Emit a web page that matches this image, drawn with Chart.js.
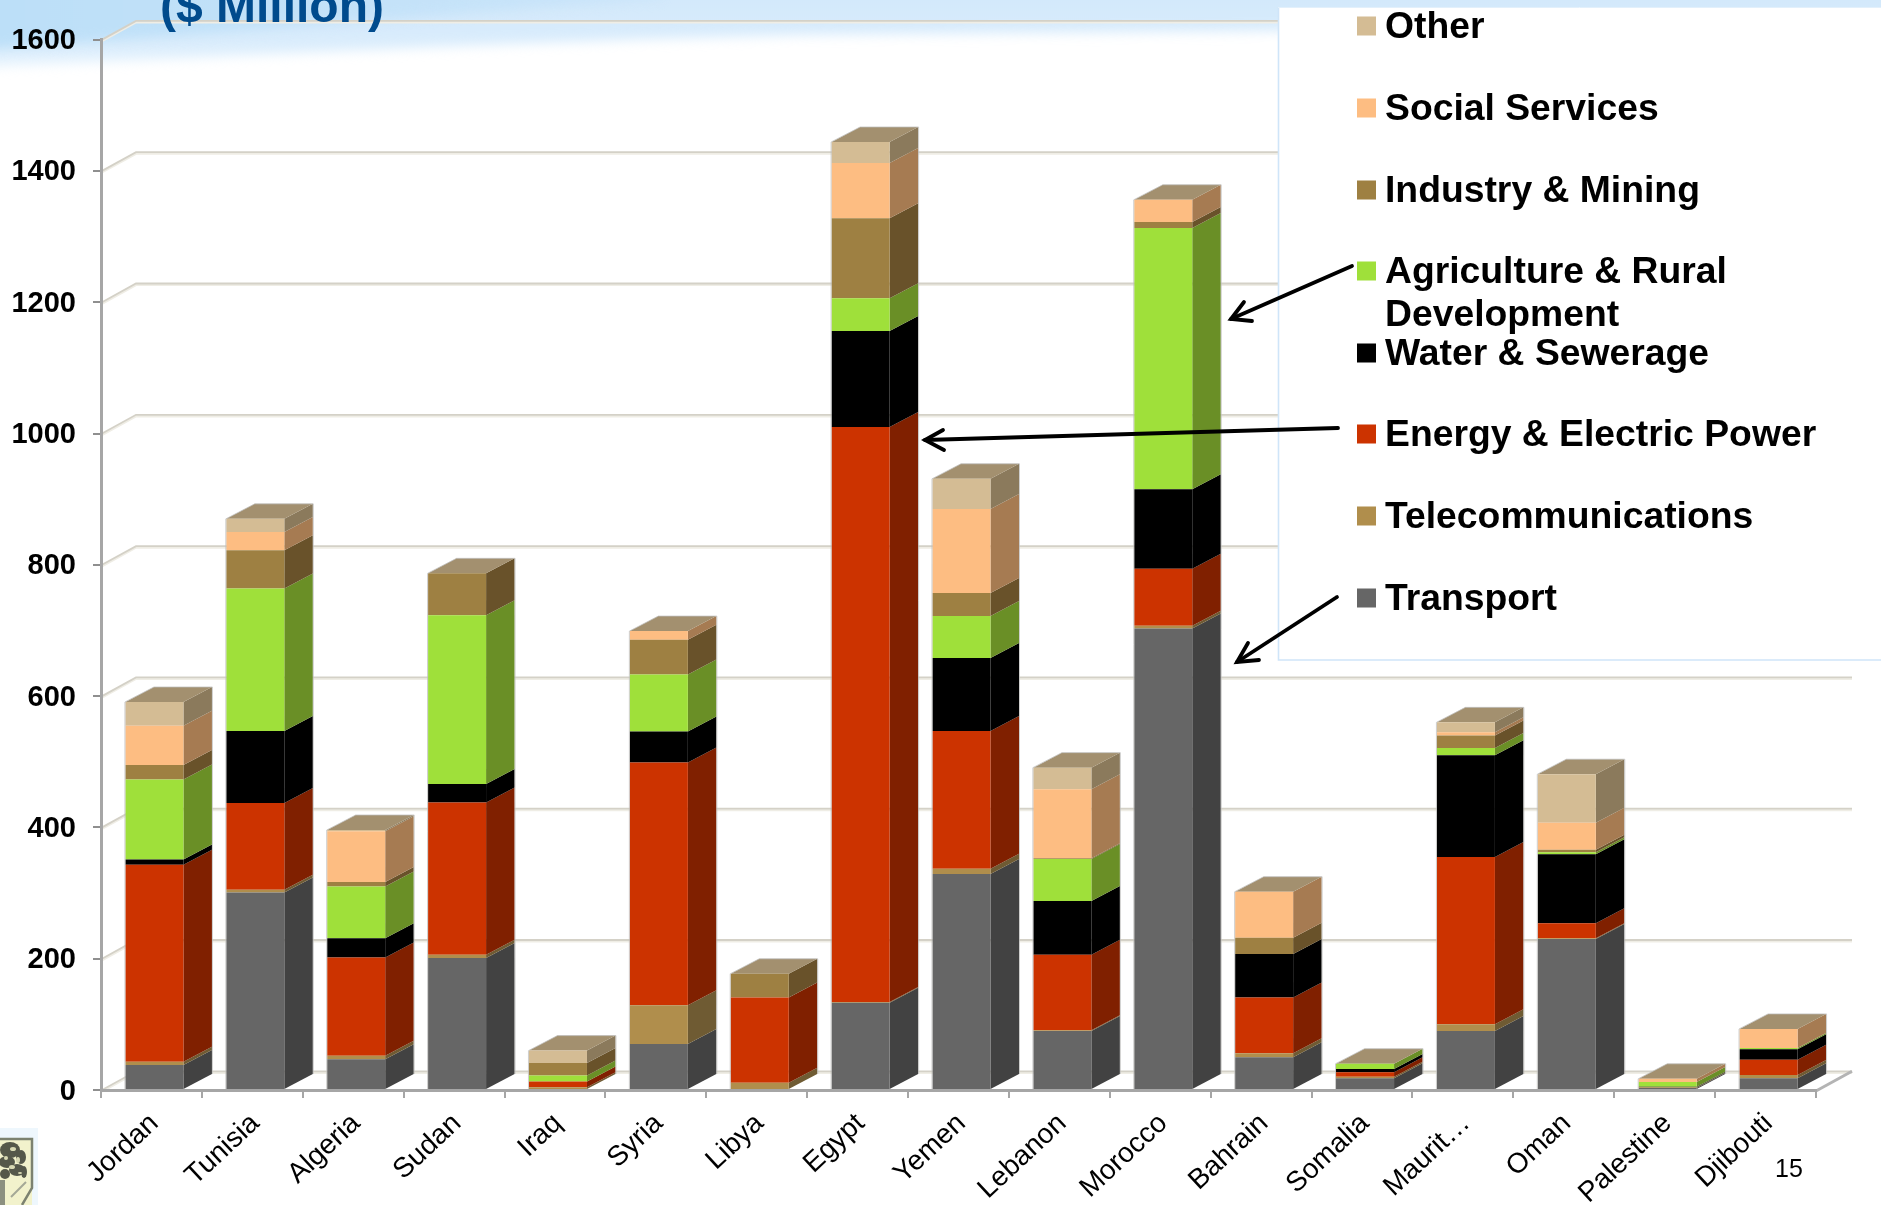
<!DOCTYPE html>
<html>
<head>
<meta charset="utf-8">
<style>html,body{margin:0;padding:0;background:#fff;overflow:hidden}canvas{display:block}</style>
<script src="https://cdn.jsdelivr.net/npm/chart.js@4"></script>
</head>
<body>
<canvas id="c" width="1881" height="1205"></canvas>
<script>
const categories = ['Jordan','Tunisia','Algeria','Sudan','Iraq','Syria','Libya','Egypt','Yemen','Lebanon','Morocco','Bahrain','Somalia','Maurit\u2026','Oman','Palestine','Djibouti'];
const transport  = [38,301,47,201,0,70,0,133,329,90,703,50,18,90,230,3,18];
const telecom    = [5,4,5,5,4,59,11,1,8,1,4,6,2,10,1,1,5];
const energy     = [300,132,150,232,9,370,130,876,210,115,87,85,7,255,23,0,23];
const water      = [8,110,29,28,0,47,0,146,111,82,121,66,5,155,105,1,16];
const agriculture= [122,217,79,257,9,87,0,50,64,64,398,0,8,11,3,7,2];
const industry   = [22,58,7,64,19,53,36,122,35,1,9,25,0,19,4,0,0];
const social     = [60,28,77,0,0,13,0,84,128,105,34,70,0,5,41,5,29];
const other      = [36,20,2,0,19,0,0,32,46,33,0,0,0,15,74,0,0];
const yTicks     = [0,200,400,600,800,1000,1200,1400,1600];
const title      = '($ Million)';
const pageNumber = '15';

const seriesNames = ['Transport','Telecommunications','Energy & Electric Power','Water & Sewerage','Agriculture & Rural Development','Industry & Mining','Social Services','Other'];
const seriesValues = [transport,telecom,energy,water,agriculture,industry,social,other];
const frontColors = ['#666666','#b08e4c','#cc3300','#000000','#9fe03a','#9e8042','#fdbd82','#d4bc94'];
const sideColors  = ['#424242','#6f5b33','#802000','#000000','#6a8f26','#69522a','#a67b52','#8b7a5c'];
const topColor = '#a3906f';

const DX=28.5, DY=15, WX=35, WY=18.7, SHIFT=3, WALL_RIGHT=1852;

function poly(ctx,pts,fill){ctx.beginPath();pts.forEach((p,i)=>i?ctx.lineTo(p[0],p[1]):ctx.moveTo(p[0],p[1]));ctx.closePath();ctx.fillStyle=fill;ctx.fill();}
function segs(ctx,pts,color,w){ctx.beginPath();pts.forEach((p,i)=>i?ctx.lineTo(p[0],p[1]):ctx.moveTo(p[0],p[1]));ctx.strokeStyle=color;ctx.lineWidth=w;ctx.stroke();}

const scene = {
  id:'scene',
  beforeDraw(chart){
    const ctx=chart.ctx;
    ctx.save();
    ctx.fillStyle='#fff';ctx.fillRect(0,0,1881,1205);
    // blue slide band
    ctx.filter='blur(6px)';
    let g=ctx.createLinearGradient(0,0,0,66);
    g.addColorStop(0,'#d3e9fb');g.addColorStop(.6,'#d9ecfc');g.addColorStop(1,'#e6f3fd');
    ctx.beginPath();ctx.moveTo(-20,-20);ctx.lineTo(-20,68);ctx.lineTo(0,66);
    ctx.bezierCurveTo(250,56,500,42,800,35);ctx.lineTo(1900,26);ctx.lineTo(1900,-20);ctx.closePath();
    ctx.fillStyle=g;ctx.fill();
    g=ctx.createLinearGradient(0,0,640,0);
    g.addColorStop(0,'#bcdff8');g.addColorStop(1,'#c9e4f9');
    ctx.beginPath();ctx.moveTo(-20,-20);ctx.lineTo(-20,50);ctx.lineTo(0,48);
    ctx.bezierCurveTo(150,38,400,18,660,-2);ctx.lineTo(660,-20);ctx.closePath();
    ctx.fillStyle=g;ctx.fill();
    ctx.filter='none';
    // back wall and left floor edge
    const y=chart.scales.y,x=chart.scales.x;
    yTicks.forEach(v=>{
      const p=y.getPixelForValue(v);
      segs(ctx,[[x.left+1,p+1.5],[x.left+WX,p-WY+1.5],[WALL_RIGHT,p-WY+1.5]],'#efede5',2.2);
      segs(ctx,[[x.left+1,p],[x.left+WX,p-WY],[WALL_RIGHT,p-WY]],'#d4d1c7',1.8);
    });
    const b=y.getPixelForValue(0);
    segs(ctx,[[x.right,b+1],[WALL_RIGHT,b-WY]],'#b4b4b4',3);
    ctx.restore();
  },
  beforeDatasetsDraw(chart){
    const ctx=chart.ctx;
    ctx.save();ctx.translate(SHIFT,0);
    const n=categories.length;
    chart.data.datasets.forEach((ds,i)=>{
      const meta=chart.getDatasetMeta(i);
      meta.data.forEach((el,j)=>{
        if(!ds.data[j])return;
        const r=el.x+el.width/2;
        poly(ctx,[[r,el.y],[r+DX,el.y-DY],[r+DX,el.base-DY],[r,el.base]],sideColors[i]);
      });
    });
    for(let j=0;j<n;j++){
      let topI=-1;chart.data.datasets.forEach((ds,i)=>{if(ds.data[j])topI=i;});
      if(topI<0)continue;
      const el=chart.getDatasetMeta(topI).data[j];
      const l=el.x-el.width/2,r=el.x+el.width/2;
      poly(ctx,[[l,el.y],[l+DX,el.y-DY],[r+DX,el.y-DY],[r,el.y]],topColor);
    }
  },
  afterDatasetsDraw(chart){
    const ctx=chart.ctx;
    const n=categories.length;
    for(let j=0;j<n;j++){
      let topI=-1,botI=-1;chart.data.datasets.forEach((ds,i)=>{if(ds.data[j]){topI=i;if(botI<0)botI=i;}});
      if(topI<0)continue;
      const el=chart.getDatasetMeta(topI).data[j],bot=chart.getDatasetMeta(botI).data[j];
      const l=el.x-el.width/2,r=el.x+el.width/2,B=bot.base;
      segs(ctx,[[l-.5,B],[l-.5,el.y],[l+DX,el.y-DY],[r+DX+.5,el.y-DY],[r+DX+.5,B-DY]],'rgba(190,190,188,.75)',1);
    }
    ctx.restore();
  },
  afterDraw(chart){
    const ctx=chart.ctx;
    ctx.save();
    // title
    ctx.fillStyle='#004b8d';ctx.font='bold 48px "Liberation Sans"';ctx.textBaseline='alphabetic';ctx.textAlign='left';
    ctx.fillText(title,160,22);
    // legend panel
    ctx.fillStyle='#fff';ctx.fillRect(1278,7,610,653);
    segs(ctx,[[1278.5,7],[1278.5,660],[1881,660]],'#cfe5f9',1.6);
    segs(ctx,[[1278,7.5],[1881,7.5]],'#e3f0fb',1);
    const rows=[7,6,5,4,3,2,1,0];
    const ys=[26,108,190,271,353,434,516,598];
    rows.forEach((s,k)=>{
      ctx.fillStyle=frontColors[s];ctx.fillRect(1357,ys[k]-9.5,19,19);
      ctx.fillStyle='#000';ctx.font='bold 37.3px "Liberation Sans"';ctx.textBaseline='middle';
      let t=seriesNames[s];
      if(s===4){ctx.fillText('Agriculture & Rural',1385,ys[k]+2);ctx.fillText('Development',1385,ys[k]+45);}
      else ctx.fillText(t,1385,ys[k]+2);
    });
    // arrows
    const arrows=[
      [[1352,266],[1231,319],[1244,302],[1252,321]],
      [[1338,428],[925,440],[943,430],[944,450]],
      [[1337,597],[1237,662],[1248,643],[1259,660]]
    ];
    ctx.lineCap='round';ctx.lineJoin='miter';
    arrows.forEach(a=>{
      segs(ctx,[a[0],a[1]],'#000',3.8);
      segs(ctx,[a[2],a[1],a[3]],'#000',3.8);
    });
    ctx.lineCap='butt';
    // page number
    ctx.fillStyle='#000';ctx.font='25px "Liberation Sans"';ctx.textAlign='center';ctx.textBaseline='middle';
    ctx.fillText(pageNumber,1789,1170);
    // logo fragment
    ctx.fillStyle='#eef7fd';ctx.fillRect(0,1128,38,77);
    ctx.fillStyle='#f2f2cc';ctx.fillRect(0,1139,32,66);
    segs(ctx,[[0,1139],[32,1139],[32,1188],[22,1205]],'#7c8270',2.5);
    ctx.fillStyle='#55584a';
    [[10,1150,10,8],[21,1157,5,7],[7,1162,8,6],[17,1170,8,6],[24,1172,3,6],[5,1174,5,5]].forEach(e=>{
      ctx.beginPath();ctx.ellipse(e[0],e[1],e[2],e[3],0,0,7);ctx.fill();});
    ctx.fillStyle='#d9dab4';
    [[13,1149,3,2],[6,1158,2,2],[18,1160,2,3],[12,1167,3,2],[20,1173,2,1]].forEach(e=>{
      ctx.beginPath();ctx.ellipse(e[0],e[1],e[2],e[3],0,0,7);ctx.fill();});
    ctx.fillStyle='#8c9080';ctx.fillRect(0,1180,5,25);
    segs(ctx,[[11,1197],[26,1182]],'#a4a896',2);
    ctx.restore();
  }
};

new Chart(document.getElementById('c'),{
  type:'bar',
  data:{labels:categories,datasets:seriesNames.map((n,i)=>({
    label:n,data:seriesValues[i],backgroundColor:frontColors[i],borderWidth:0,
    barPercentage:0.575,categoryPercentage:1,clip:false
  }))},
  plugins:[scene],
  options:{
    responsive:false,animation:false,devicePixelRatio:1,
    layout:{padding:{left:0,right:65,top:39.6,bottom:0}},
    plugins:{legend:{display:false},tooltip:{enabled:false},title:{display:false}},
    scales:{
      x:{stacked:true,
        afterFit(s){s.height=115;},
        grid:{offset:true,drawOnChartArea:false,drawTicks:true,tickLength:8,color:'#a6a6a6',lineWidth:2},
        border:{display:true,color:'#a6a6a6',width:3},
        ticks:{autoSkip:false,maxRotation:43,minRotation:43,padding:9,labelOffset:SHIFT,color:'#000',font:{family:'"Liberation Sans"',size:28}}
      },
      y:{stacked:true,min:0,max:1600,
        afterFit(s){s.width=101;},
        afterBuildTicks(s){s.ticks=yTicks.map(v=>({value:v}));},
        grid:{drawOnChartArea:false,drawTicks:true,tickLength:8,color:'#8f8f8f',lineWidth:2},
        border:{display:true,color:'#a6a6a6',width:3},
        ticks:{padding:17,labelOffset:1.5,color:'#000',font:{family:'"Liberation Sans"',size:29,weight:'bold'},callback:v=>String(v)}
      }
    }
  }
});
</script>
</body>
</html>
